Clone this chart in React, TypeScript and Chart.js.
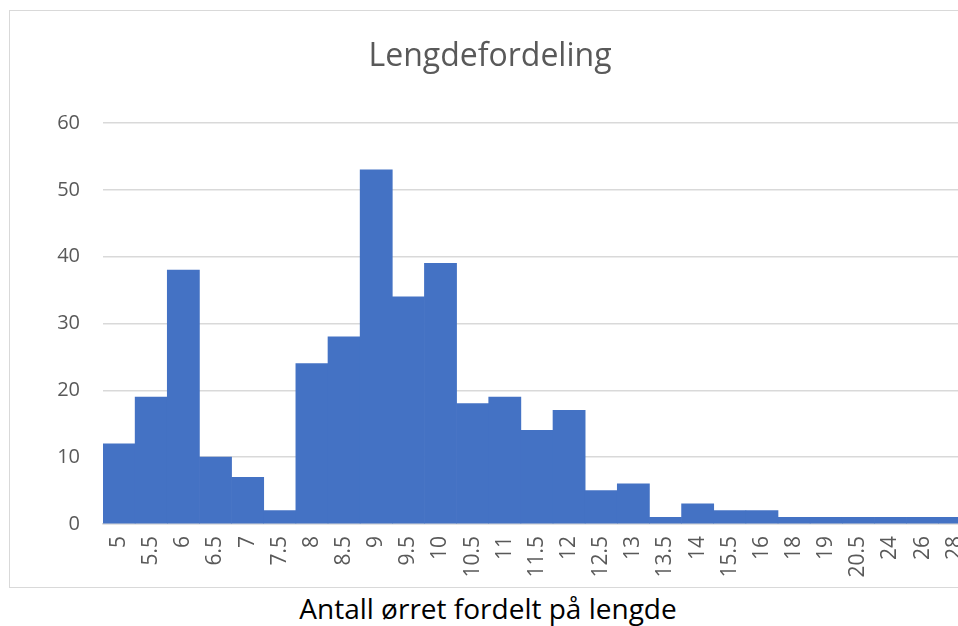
import React, { useEffect, useRef } from "react";
import { Chart, registerables } from "chart.js";

Chart.register(...registerables);

const categories = ["5", "5.5", "6", "6.5", "7", "7.5", "8", "8.5", "9", "9.5", "10", "10.5", "11", "11.5", "12", "12.5", "13", "13.5", "14", "15.5", "16", "18", "19", "20.5", "24", "26", "28"];
const counts = [12, 19, 38, 10, 7, 2, 24, 28, 53, 34, 39, 18, 19, 14, 17, 5, 6, 1, 3, 2, 2, 1, 1, 1, 1, 1, 1];
const yTicks = [0, 10, 20, 30, 40, 50, 60];
const chartTitle = "Lengdefordeling";
const caption = "Antall ørret fordelt på lengde";

const FONT = "'Open Sans', 'Noto Sans', sans-serif";
const CW = 982;
const CH = 576;

export default function App() {
  const ref = useRef<HTMLCanvasElement | null>(null);

  useEffect(() => {
    if (!ref.current) return;
    const chart = new Chart(ref.current, {
      type: "bar",
      data: {
        labels: categories,
        datasets: [
          {
            data: counts,
            backgroundColor: "#4472C4",
            borderWidth: 0,
            categoryPercentage: 1,
            barPercentage: 1,
          },
        ],
      },
      options: {
        responsive: false,
        animation: false,
        layout: { padding: { left: 0, right: 0, top: 112, bottom: 0 } },
        plugins: {
          legend: { display: false },
          tooltip: { enabled: false },
          title: { display: false },
        },
        scales: {
          x: {
            grid: { display: false, drawTicks: false },
            border: { display: true, color: "#d9d9d9", width: 1.5 },
            ticks: {
              autoSkip: false,
              maxRotation: 90,
              minRotation: 90,
              padding: 12,
              color: "#595959",
              font: { family: FONT, size: 21 },
            },
            afterFit: (s: any) => {
              s.height = 63;
            },
          },
          y: {
            min: 0,
            max: 60,
            afterBuildTicks: (s: any) => {
              s.ticks = yTicks.map((v) => ({ value: v }));
            },
            grid: { color: "#d9d9d9", lineWidth: 1.5, drawTicks: false },
            border: { display: false },
            ticks: {
              padding: 23,
              color: "#595959",
              font: { family: FONT, size: 20 },
            },
            afterFit: (s: any) => {
              s.width = 93;
            },
          },
        },
      },
    });
    return () => chart.destroy();
  }, []);

  return (
    <div
      style={{
        position: "fixed",
        left: 0,
        top: 0,
        width: 958,
        height: 626,
        overflow: "hidden",
        background: "#fff",
      }}
    >
      <div
        style={{
          position: "absolute",
          left: 9,
          top: 10,
          width: CW,
          height: CH,
          border: "1px solid #d9d9d9",
        }}
      >
        <canvas ref={ref} width={CW} height={CH} style={{ width: CW, height: CH, display: "block" }} />
      </div>
      <div
        style={{
          position: "absolute",
          left: 0,
          top: 34,
          width: 980,
          textAlign: "center",
          fontFamily: FONT,
          fontSize: 32,
          lineHeight: "40px",
          color: "#595959",
        }}
      >
        {chartTitle}
      </div>
      <div
        style={{
          position: "absolute",
          left: 0,
          top: 591,
          width: 976,
          textAlign: "center",
          fontFamily: FONT,
          fontSize: 28,
          lineHeight: "34px",
          color: "#000",
        }}
      >
        {caption}
      </div>
    </div>
  );
}
